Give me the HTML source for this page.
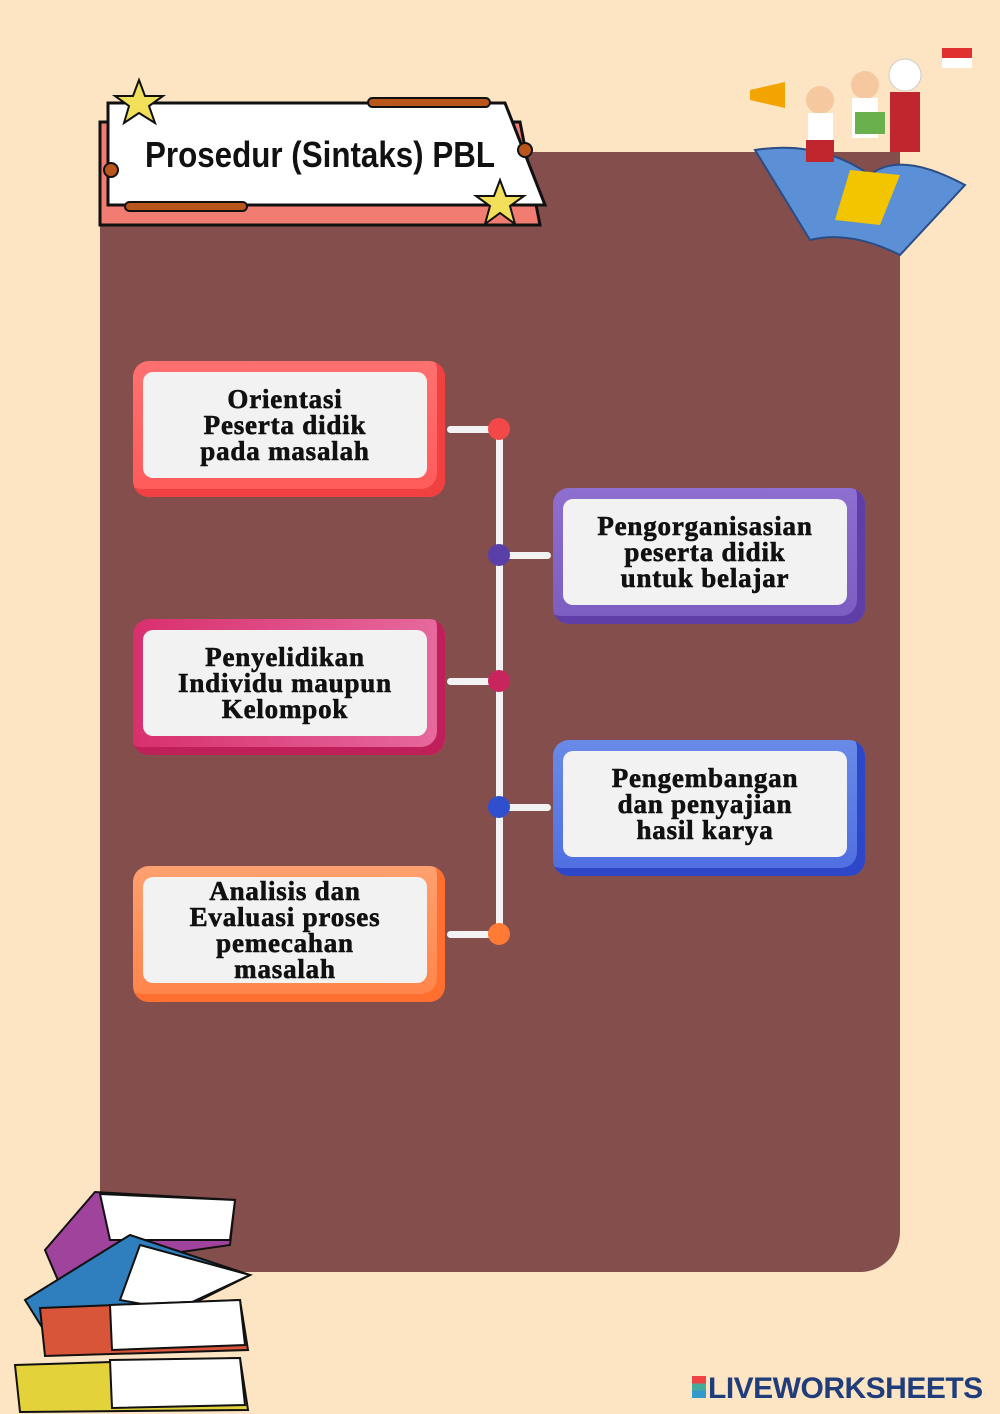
<!DOCTYPE html><html><head><style>
body{margin:0;width:1000px;height:1414px;background:#fde4c3;position:relative;overflow:hidden;font-family:"Liberation Serif",serif}
.panel{position:absolute;left:100px;top:152px;width:800px;height:1120px;background:#834e4c;border-radius:0 0 40px 0}
.box{position:absolute;width:312px;height:136px;border-radius:16px;box-sizing:border-box}
.box .in{position:absolute;left:10px;top:11px;right:18px;bottom:19px;background:#f2f2f2;border-radius:10px;display:flex;align-items:center;justify-content:center;text-align:center;font-weight:bold;font-size:27px;line-height:26px;color:#111;letter-spacing:.8px;-webkit-text-stroke:0.6px #111}
.h{position:absolute;height:7px;background:#f2f2f2;border-radius:4px}
.dot{position:absolute;width:22px;height:22px;border-radius:50%}
</style></head><body>
<div class="panel"></div>
<svg style="position:absolute;left:0;top:0" width="1000" height="1414">
<polygon points="100,122 520,122 540,225 100,225" fill="#f07c72" stroke="#111" stroke-width="3"/>
<polygon points="108,103 505,103 545,205 108,205" fill="#fff" stroke="#111" stroke-width="3"/>
<rect x="368" y="98" width="122" height="9" rx="4.5" fill="#b9561c" stroke="#111" stroke-width="2"/>
<rect x="125" y="202" width="122" height="9" rx="4.5" fill="#b9561c" stroke="#111" stroke-width="2"/>
<circle cx="111" cy="170" r="7" fill="#b9561c" stroke="#111" stroke-width="2"/>
<circle cx="525" cy="150" r="7" fill="#b9561c" stroke="#111" stroke-width="2"/>
<polygon points="139,80 145,96 163,96 149,106 155,123 139,113 124,123 129,106 115,96 133,96" fill="#f3e05a" stroke="#111" stroke-width="2"/>
<polygon points="500,180 506,196 524,196 510,206 515,224 500,213 485,224 490,206 476,196 494,196" fill="#f3e05a" stroke="#111" stroke-width="2"/>
<text x="145" y="167" textLength="350" lengthAdjust="spacingAndGlyphs" font-family="Liberation Sans,sans-serif" font-weight="bold" font-size="36" fill="#111">Prosedur (Sintaks) PBL</text>
<!-- kids/book -->
<path d="M755,150 Q820,140 870,175 Q900,150 965,185 L900,255 Q850,230 810,240 Z" fill="#5b8fd6" stroke="#2b4d86" stroke-width="2"/>
<polygon points="850,170 900,175 880,225 835,220" fill="#f2c500"/>
<circle cx="820" cy="100" r="14" fill="#f5c8a0"/><rect x="808" y="113" width="25" height="30" fill="#fff"/><rect x="806" y="140" width="28" height="22" fill="#c0262d"/>
<circle cx="865" cy="85" r="14" fill="#f5c8a0"/><rect x="852" y="98" width="26" height="40" fill="#fff"/><rect x="855" y="112" width="30" height="22" fill="#6ab04c"/>
<circle cx="905" cy="75" r="16" fill="#fff" stroke="#ccc"/><rect x="890" y="92" width="30" height="60" fill="#c0262d"/>
<rect x="942" y="48" width="30" height="10" fill="#e03030"/><rect x="942" y="58" width="30" height="10" fill="#fff"/>
<polygon points="750,90 785,82 785,108 750,100" fill="#f2a400"/>
<!-- books -->
<g stroke="#111" stroke-width="2">
<path d="M45,1250 L95,1192 L235,1200 L230,1245 L90,1265 L60,1285 Z" fill="#a0439c"/><path d="M100,1194 L235,1200 L230,1240 L110,1240 Z" fill="#fff"/>
<path d="M25,1300 L130,1235 L250,1275 L160,1320 L50,1340 Z" fill="#2f7fbf"/><path d="M140,1245 L250,1275 L175,1310 L120,1300 Z" fill="#fff"/>
<path d="M40,1308 L240,1300 L248,1350 L45,1356 Z" fill="#d8553a"/><path d="M110,1305 L240,1300 L245,1345 L112,1350 Z" fill="#fff"/>
<path d="M15,1365 L240,1358 L248,1410 L20,1412 Z" fill="#e4d23a"/><path d="M110,1360 L240,1358 L245,1405 L112,1408 Z" fill="#fff"/>
</g>
<rect x="496" y="429" width="7" height="506" fill="#f2f2f2"/>
</svg>
<div class="h" style="left:447px;top:426px;width:52px"></div>
<div class="h" style="left:499px;top:552px;width:52px"></div>
<div class="h" style="left:447px;top:678px;width:52px"></div>
<div class="h" style="left:499px;top:804px;width:52px"></div>
<div class="h" style="left:447px;top:931px;width:52px"></div>
<div class="dot" style="left:488px;top:418px;background:#f24848"></div>
<div class="dot" style="left:488px;top:544px;background:#5a3fa8"></div>
<div class="dot" style="left:488px;top:670px;background:#c8245e"></div>
<div class="dot" style="left:488px;top:796px;background:#2f4fcf"></div>
<div class="dot" style="left:488px;top:923px;background:#ff7a35"></div>

<div class="box" style="left:133px;top:361px;background:linear-gradient(#ff7070,#ff5a5a);box-shadow:inset -8px -8px 0 #f04040"><div class="in">Orientasi<br>Peserta didik<br>pada masalah</div></div>
<div class="box" style="left:553px;top:488px;background:linear-gradient(#8e6fd0,#7b5cc0);box-shadow:inset -8px -8px 0 #5f3ea8"><div class="in">Pengorganisasian<br>peserta didik<br>untuk belajar</div></div>
<div class="box" style="left:133px;top:619px;background:linear-gradient(90deg,#d8306e,#e66a9e);box-shadow:inset -8px -8px 0 #c0205a"><div class="in">Penyelidikan<br>Individu maupun<br>Kelompok</div></div>
<div class="box" style="left:553px;top:740px;background:linear-gradient(#6a8ae8,#4f6ee0);box-shadow:inset -8px -8px 0 #2d47c8"><div class="in">Pengembangan<br>dan penyajian<br>hasil karya</div></div>
<div class="box" style="left:133px;top:866px;background:linear-gradient(#ffa070,#ff8448);box-shadow:inset -8px -8px 0 #ff7030"><div class="in">Analisis dan<br>Evaluasi proses<br>pemecahan<br>masalah</div></div>

<div style="position:absolute;left:692px;top:1372px;font-family:'Liberation Sans',sans-serif;font-weight:bold;font-size:30px;color:#1f3d7a;letter-spacing:-.5px"><span style="display:inline-block;width:14px;height:22px;background:linear-gradient(#e44 0 33%,#4a9 33% 66%,#39c 66%);margin-right:2px"></span>LIVEWORKSHEETS</div>
</body></html>
